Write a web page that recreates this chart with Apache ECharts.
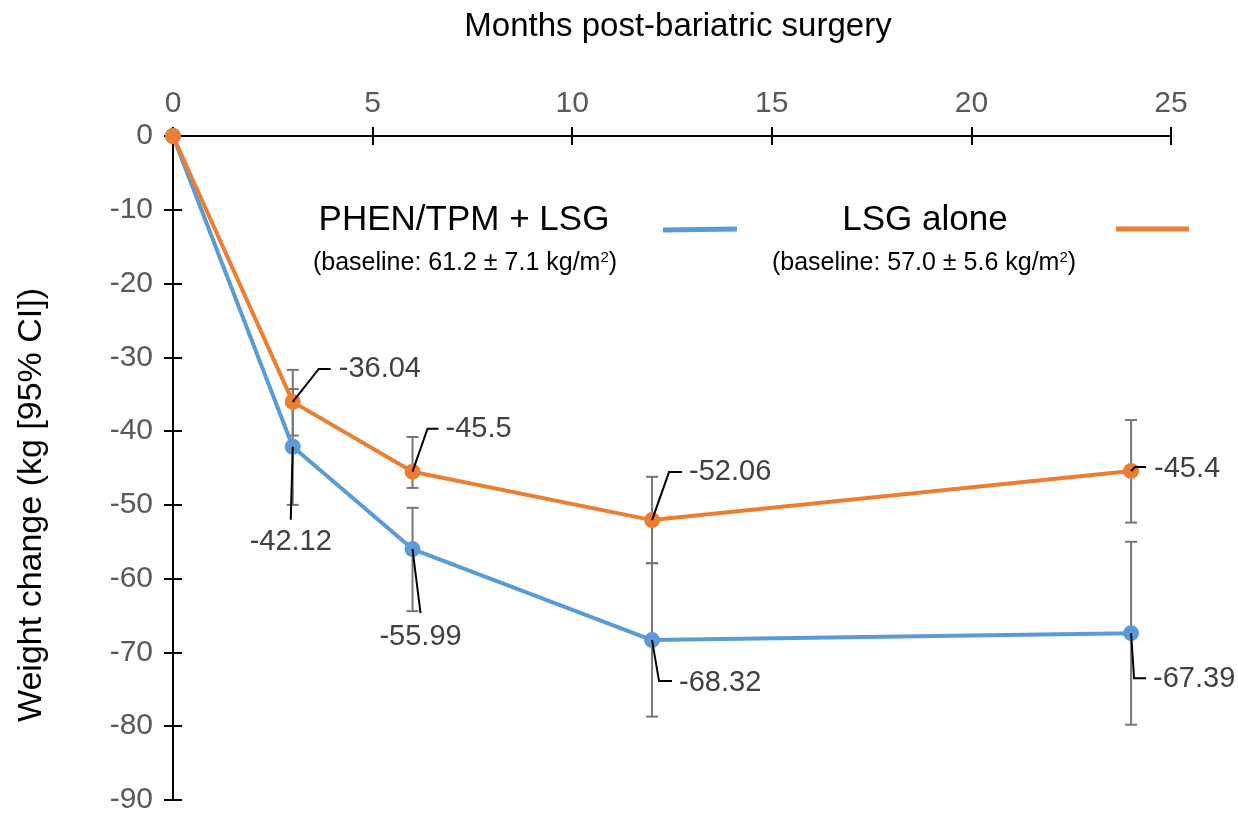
<!DOCTYPE html>
<html>
<head>
<meta charset="utf-8">
<script src="https://cdn.jsdelivr.net/npm/echarts@6/dist/echarts.min.js"></script>
<style>
html,body{margin:0;padding:0;background:#fff;}
#chart{width:1238px;height:815px;}
</style>
</head>
<body>
<div id="chart"></div>
<script>
// ---- data ----
const months = [0, 3, 6, 12, 24];
const phenValues = [0, -42.12, -55.99, -68.32, -67.39];
const lsgValues = [0, -36.04, -45.5, -52.06, -45.4];
const phenLow = [null, -50.0, -64.4, -78.7, -79.8];
const phenHigh = [null, -34.3, -50.4, -57.9, -55.0];
const lsgLow = [null, -40.6, -47.7, -57.9, -52.4];
const lsgHigh = [null, -31.7, -40.8, -46.2, -38.5];
const xTicks = [0, 5, 10, 15, 20, 25];
const yTicks = [0, -10, -20, -30, -40, -50, -60, -70, -80, -90];
const seriesNames = ['PHEN/TPM + LSG', 'LSG alone'];
const baselineNotes = ['(baseline: 61.2 \u00b1 7.1 kg/m{s|2})', '(baseline: 57.0 \u00b1 5.6 kg/m{s|2})'];
const xTitle = 'Months post-bariatric surgery';
const yTitle = 'Weight change (kg [95% CI])';

// ---- label leader styling (pixel offsets from the point) ----
// [elbowDx, elbowDy, endDx, textDx, textDy, align]
const lsgLabelStyle = [null, [26,-33,38,46,-33,'left'], [15,-43,26,33,-43,'left'], [17,-48,30,37,-48,'left'], [4,-4,15,23,-2,'left']];
const phenLabelStyle = [null, [-2,73,-2,-2,95,'center'], [8,64,8,8,88,'center'], [7,41,20,27,43,'left'], [3,45,15,22,46,'left']];

const BLUE = '#5B9BD5', ORANGE = '#ED7D31', FONT = 'Liberation Sans';

function errData(low, high) {
  const out = [];
  months.forEach((m, i) => { if (low[i] !== null) out.push([m, low[i], high[i]]); });
  return out;
}
function errSeries(low, high, z) {
  return {
    type: 'custom', z: z, silent: true,
    data: errData(low, high),
    encode: { x: 0, y: [1, 2] },
    renderItem: function (params, api) {
      const x = api.value(0);
      const p1 = api.coord([x, api.value(1)]);
      const p2 = api.coord([x, api.value(2)]);
      const st = { stroke: '#767676', lineWidth: 2 };
      const w = 6;
      return { type: 'group', children: [
        { type: 'line', shape: { x1: p1[0], y1: p1[1], x2: p2[0], y2: p2[1] }, style: st },
        { type: 'line', shape: { x1: p1[0]-w, y1: p1[1], x2: p1[0]+w, y2: p1[1] }, style: st },
        { type: 'line', shape: { x1: p2[0]-w, y1: p2[1], x2: p2[0]+w, y2: p2[1] }, style: st }
      ]};
    }
  };
}
function labelSeries(values, styleArr) {
  const data = [];
  months.forEach((m, i) => { if (styleArr[i]) data.push([m, values[i], i]); });
  return {
    type: 'custom', z: 10, silent: true,
    data: data,
    encode: { x: 0, y: 1 },
    renderItem: function (params, api) {
      const i = api.value(2);
      const s = styleArr[i];
      const p = api.coord([api.value(0), api.value(1)]);
      const pts = [[p[0], p[1]], [p[0]+s[0], p[1]+s[1]], [p[0]+s[2], p[1]+s[1]]];
      return { type: 'group', children: [
        { type: 'polyline', shape: { points: pts }, style: { stroke: '#000', lineWidth: 2, fill: null } },
        { type: 'text', x: p[0]+s[3], y: p[1]+s[4], style: {
          text: String(values[i]), fill: '#404040', font: '29px "' + FONT + '"',
          textAlign: s[5], textVerticalAlign: 'middle' } }
      ]};
    }
  };
}

const chart = echarts.init(document.getElementById('chart'), null, { renderer: 'canvas' });
const axisLabel = { color: '#595959', fontSize: 30, fontFamily: FONT };
const noteRich = { s: { fontSize: 15, fontFamily: FONT, fill: '#000', verticalAlign: 'top', padding: [0, 0, 10, 0] } };
chart.setOption({
  animation: false,
  backgroundColor: '#fff',
  grid: { left: 173, right: 67, top: 136, bottom: 14, containLabel: false },
  xAxis: [
    { type: 'value', position: 'top', min: xTicks[0], max: xTicks[xTicks.length-1], interval: 5,
      axisLine: { lineStyle: { color: '#000', width: 2 } },
      axisTick: { show: true, length: 9, lineStyle: { color: '#000', width: 2 } },
      axisLabel: Object.assign({ margin: 17 }, axisLabel), splitLine: { show: false } },
    { type: 'value', position: 'top', min: xTicks[0], max: xTicks[xTicks.length-1], interval: 5,
      axisLine: { show: false }, axisTick: { show: true, inside: true, length: 9, lineStyle: { color: '#000', width: 2 } },
      axisLabel: { show: false }, splitLine: { show: false } }
  ],
  yAxis: [
    { type: 'value', min: yTicks[yTicks.length-1], max: yTicks[0], interval: 10,
      axisLine: { show: true, lineStyle: { color: '#000', width: 2 } },
      axisTick: { show: true, length: 9, lineStyle: { color: '#000', width: 2 } },
      axisLabel: Object.assign({ margin: 20 }, axisLabel), splitLine: { show: false } },
    { type: 'value', position: 'left', min: yTicks[yTicks.length-1], max: yTicks[0], interval: 10,
      axisLine: { show: false }, axisTick: { show: true, inside: true, length: 9, lineStyle: { color: '#000', width: 2 } },
      axisLabel: { show: false }, splitLine: { show: false } }
  ],
  graphic: [
    { type: 'text', x: 678, y: 27, z: 20, style: { text: xTitle, fill: '#000', font: '33px "' + FONT + '"', textAlign: 'center', textVerticalAlign: 'middle' } },
    { type: 'text', x: 32, y: 505, rotation: Math.PI/2, z: 20, style: { text: yTitle, fill: '#000', font: '34px "' + FONT + '"', textAlign: 'center', textVerticalAlign: 'middle' } },
    { type: 'text', x: 464, y: 220, z: 20, style: { text: seriesNames[0], fill: '#000', font: '35px "' + FONT + '"', textAlign: 'center', textVerticalAlign: 'middle' } },
    { type: 'text', x: 465, y: 263, z: 20, style: { text: baselineNotes[0], fill: '#000', font: '25px "' + FONT + '"', textAlign: 'center', textVerticalAlign: 'middle', rich: noteRich } },
    { type: 'line', z: 20, shape: { x1: 663, y1: 230, x2: 737, y2: 229 }, style: { stroke: BLUE, lineWidth: 5 } },
    { type: 'text', x: 925, y: 220, z: 20, style: { text: seriesNames[1], fill: '#000', font: '35px "' + FONT + '"', textAlign: 'center', textVerticalAlign: 'middle' } },
    { type: 'text', x: 924, y: 263, z: 20, style: { text: baselineNotes[1], fill: '#000', font: '25px "' + FONT + '"', textAlign: 'center', textVerticalAlign: 'middle', rich: noteRich } },
    { type: 'line', z: 20, shape: { x1: 1116, y1: 229, x2: 1189, y2: 229 }, style: { stroke: ORANGE, lineWidth: 5 } }
  ],
  series: [
    errSeries(phenLow, phenHigh, 1),
    errSeries(lsgLow, lsgHigh, 1),
    { name: seriesNames[0], type: 'line', z: 3, data: months.map((m, i) => [m, phenValues[i]]),
      symbol: 'circle', symbolSize: 16, showAllSymbol: true,
      lineStyle: { color: BLUE, width: 4 }, itemStyle: { color: BLUE } },
    { name: seriesNames[1], type: 'line', z: 4, data: months.map((m, i) => [m, lsgValues[i]]),
      symbol: 'circle', symbolSize: 16, showAllSymbol: true,
      lineStyle: { color: ORANGE, width: 4 }, itemStyle: { color: ORANGE } },
    labelSeries(lsgValues, lsgLabelStyle),
    labelSeries(phenValues, phenLabelStyle)
  ]
});
</script>
</body>
</html>
